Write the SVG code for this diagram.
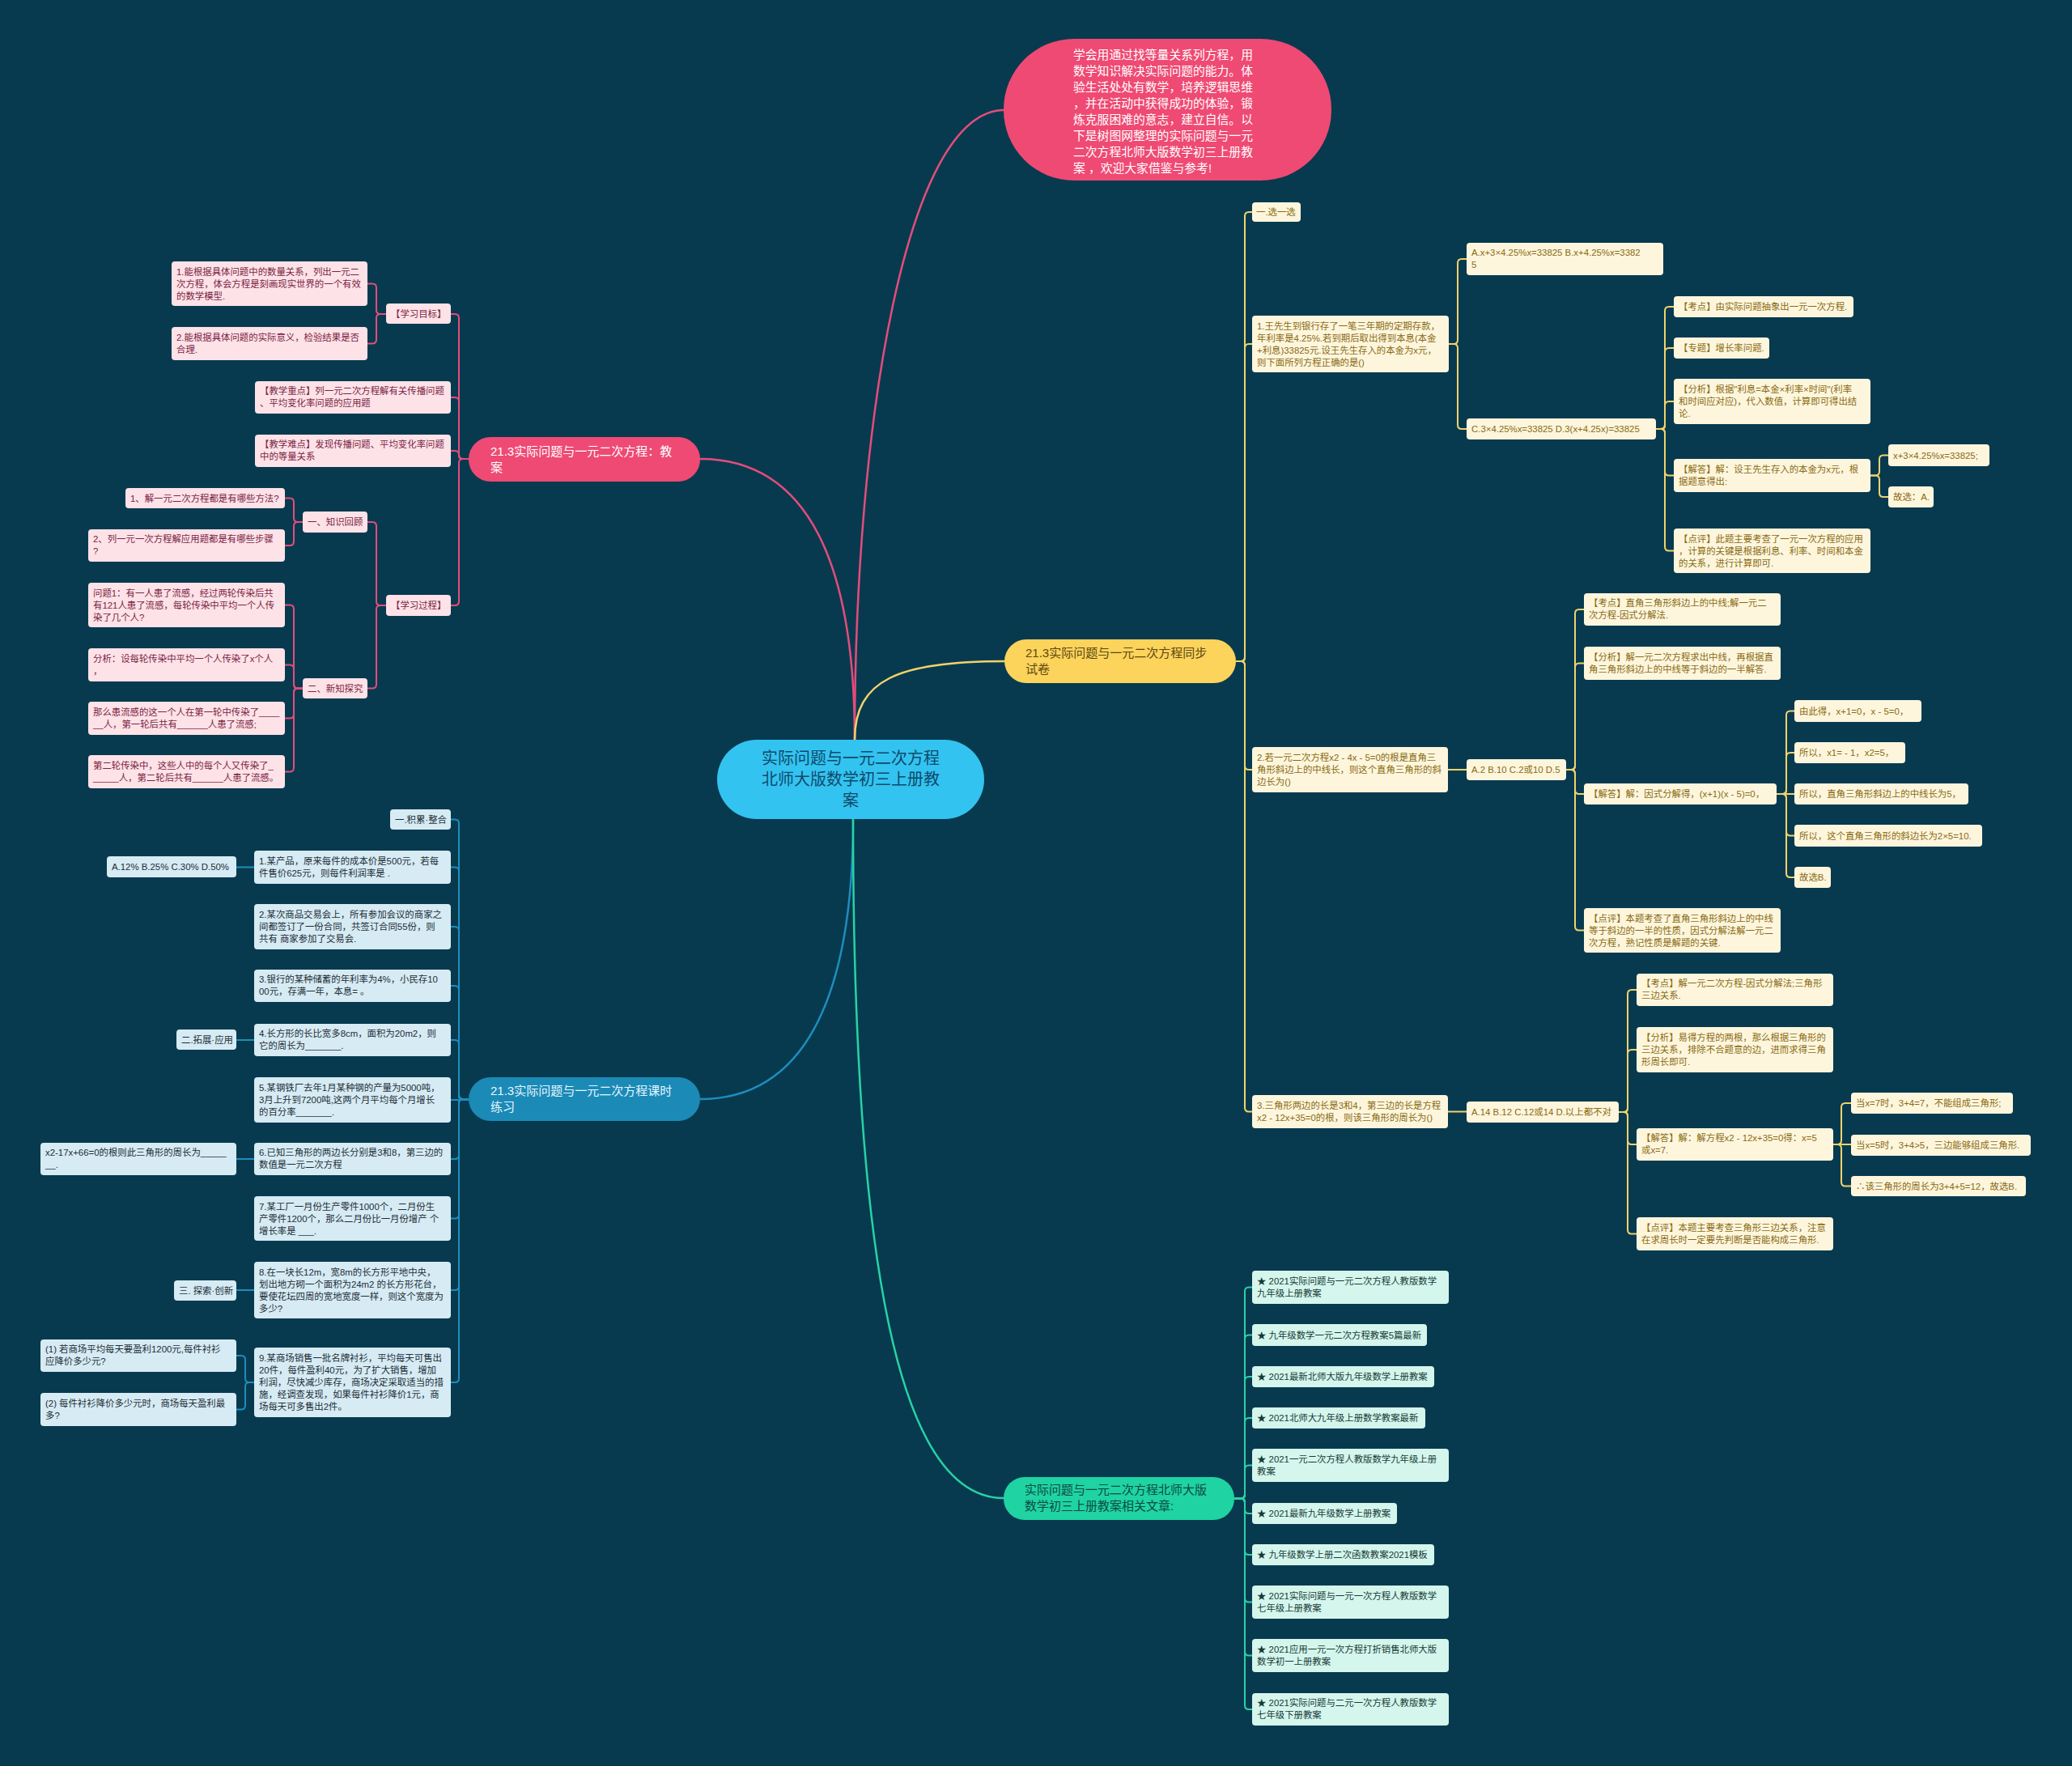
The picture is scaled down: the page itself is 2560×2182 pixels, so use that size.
<svg xmlns="http://www.w3.org/2000/svg" width="2560" height="2182" viewBox="0 0 2560 2182">
<style>
text{font-family:'Liberation Sans','Noto Sans CJK SC',sans-serif;font-size:11.4px}
.pk rect{fill:#fde2e8}.pk text{fill:#7a2443}
.bl rect{fill:#d6ebf3}.bl text{fill:#1d2d38}
.yl rect{fill:#fdf6dd}.yl text{fill:#8a6a12}
.gr rect{fill:#d4f6ed}.gr text{fill:#173a35}
#connectors path{fill:none;stroke-width:2}
.cp{stroke:#e44d7b}.cb{stroke:#1e8dbd}.cy{stroke:#f0d36c}.cg{stroke:#27d3a5}
</style>
<rect width="2560" height="2182" fill="#083a4f"/>
<g id="connectors">
<path class="cp" style="stroke-width:2.5" d="M1056,914 C1056,520 1120,136 1241,136"/>
<path class="cp" style="stroke-width:2.5" d="M1056,914 C1056,700 1000,567 865,567"/>
<path class="cy" style="stroke-width:2.5" d="M1056,914 C1056,840 1110,817 1241,817"/>
<path class="cb" style="stroke-width:2.5" d="M1054,1012 C1054,1220 1000,1358 865,1358"/>
<path class="cg" style="stroke-width:2.5" d="M1054,1012 C1054,1560 1110,1851 1240,1851"/>
<path class="cp" d="M579,567 H572 Q567,567 567,562 V393 Q567,388 562,388 H557"/>
<path class="cp" d="M579,567 H572 Q567,567 567,562 V496 Q567,491 562,491 H557"/>
<path class="cp" d="M579,567 H572 Q567,567 567,562 Q567,557 562,557 H557"/>
<path class="cp" d="M579,567 H572 Q567,567 567,572 V743 Q567,748 562,748 H557"/>
<path class="cp" d="M477,388 H470 Q465,388 465,383 V355.5 Q465,350.5 460,350.5 H454"/>
<path class="cp" d="M477,388 H470 Q465,388 465,393 V419.5 Q465,424.5 460,424.5 H454"/>
<path class="cp" d="M477,748 H470 Q465,748 465,743 V650 Q465,645 460,645 H454"/>
<path class="cp" d="M477,748 H470 Q465,748 465,753 V845.5 Q465,850.5 460,850.5 H454"/>
<path class="cp" d="M374,645 H368 Q363,645 363,640 V620.5 Q363,615.5 358,615.5 H352"/>
<path class="cp" d="M374,645 H368 Q363,645 363,650 V669 Q363,674 358,674 H352"/>
<path class="cp" d="M374,850.5 H368 Q363,850.5 363,845.5 V752.5 Q363,747.5 358,747.5 H352"/>
<path class="cp" d="M374,850.5 H368 Q363,850.5 363,845.5 V826.5 Q363,821.5 358,821.5 H352"/>
<path class="cp" d="M374,850.5 H368 Q363,850.5 363,855.5 V882.5 Q363,887.5 358,887.5 H352"/>
<path class="cp" d="M374,850.5 H368 Q363,850.5 363,855.5 V948.5 Q363,953.5 358,953.5 H352"/>
<path class="cb" d="M579,1358 H572 Q567,1358 567,1353 V1017.5 Q567,1012.5 562,1012.5 H557"/>
<path class="cb" d="M579,1358 H572 Q567,1358 567,1353 V1076.5 Q567,1071.5 562,1071.5 H557"/>
<path class="cb" d="M579,1358 H572 Q567,1358 567,1353 V1150 Q567,1145 562,1145 H557"/>
<path class="cb" d="M579,1358 H572 Q567,1358 567,1353 V1223 Q567,1218 562,1218 H557"/>
<path class="cb" d="M579,1358 H572 Q567,1358 567,1353 V1290 Q567,1285 562,1285 H557"/>
<path class="cb" d="M579,1359 H557"/>
<path class="cb" d="M579,1358 H572 Q567,1358 567,1363 V1427 Q567,1432 562,1432 H557"/>
<path class="cb" d="M579,1358 H572 Q567,1358 567,1363 V1500.5 Q567,1505.5 562,1505.5 H557"/>
<path class="cb" d="M579,1358 H572 Q567,1358 567,1363 V1589 Q567,1594 562,1594 H557"/>
<path class="cb" d="M579,1358 H572 Q567,1358 567,1363 V1703 Q567,1708 562,1708 H557"/>
<path class="cb" d="M314,1071.5 H292"/>
<path class="cb" d="M314,1285 H292"/>
<path class="cb" d="M314,1432 H292"/>
<path class="cb" d="M314,1594 H292"/>
<path class="cb" d="M314,1708 H308 Q303,1708 303,1703 V1680 Q303,1675 298,1675 H292"/>
<path class="cb" d="M314,1708 H308 Q303,1708 303,1713 V1736.5 Q303,1741.5 298,1741.5 H292"/>
<path class="cy" d="M1527,817 H1533 Q1538,817 1538,812 V267 Q1538,262 1543,262 H1547"/>
<path class="cy" d="M1527,817 H1533 Q1538,817 1538,812 V430 Q1538,425 1543,425 H1547"/>
<path class="cy" d="M1527,817 H1533 Q1538,817 1538,822 V946 Q1538,951 1543,951 H1547"/>
<path class="cy" d="M1527,817 H1533 Q1538,817 1538,822 V1368.5 Q1538,1373.5 1543,1373.5 H1547"/>
<path class="cy" d="M1790,425 H1796 Q1801,425 1801,420 V325 Q1801,320 1806,320 H1812"/>
<path class="cy" d="M1790,425 H1796 Q1801,425 1801,430 V525 Q1801,530 1806,530 H1812"/>
<path class="cy" d="M2046,530 H2052 Q2057,530 2057,525 V384 Q2057,379 2062,379 H2068"/>
<path class="cy" d="M2046,530 H2052 Q2057,530 2057,525 V435 Q2057,430 2062,430 H2068"/>
<path class="cy" d="M2046,530 H2052 Q2057,530 2057,525 V501 Q2057,496 2062,496 H2068"/>
<path class="cy" d="M2046,530 H2052 Q2057,530 2057,535 V582.5 Q2057,587.5 2062,587.5 H2068"/>
<path class="cy" d="M2046,530 H2052 Q2057,530 2057,535 V675.5 Q2057,680.5 2062,680.5 H2068"/>
<path class="cy" d="M2311,587.5 H2317 Q2322,587.5 2322,582.5 V567.5 Q2322,562.5 2327,562.5 H2333"/>
<path class="cy" d="M2311,587.5 H2317 Q2322,587.5 2322,592.5 V609 Q2322,614 2327,614 H2333"/>
<path class="cy" d="M1789,951 H1812"/>
<path class="cy" d="M1935,951 H1941 Q1946,951 1946,946 V758 Q1946,753 1951,753 H1957"/>
<path class="cy" d="M1935,951 H1941 Q1946,951 1946,946 V824.5 Q1946,819.5 1951,819.5 H1957"/>
<path class="cy" d="M1935,951 H1941 Q1946,951 1946,956 V976 Q1946,981 1951,981 H1957"/>
<path class="cy" d="M1935,951 H1941 Q1946,951 1946,956 V1144.5 Q1946,1149.5 1951,1149.5 H1957"/>
<path class="cy" d="M2195,981 H2202 Q2207,981 2207,976 V883.5 Q2207,878.5 2212,878.5 H2217"/>
<path class="cy" d="M2195,981 H2202 Q2207,981 2207,976 V935 Q2207,930 2212,930 H2217"/>
<path class="cy" d="M2195,981 H2217"/>
<path class="cy" d="M2195,981 H2202 Q2207,981 2207,986 V1027.5 Q2207,1032.5 2212,1032.5 H2217"/>
<path class="cy" d="M2195,981 H2202 Q2207,981 2207,986 V1079 Q2207,1084 2212,1084 H2217"/>
<path class="cy" d="M1789,1373.5 H1812"/>
<path class="cy" d="M2000,1374 H2006 Q2011,1374 2011,1369 V1228 Q2011,1223 2016,1223 H2022"/>
<path class="cy" d="M2000,1374 H2006 Q2011,1374 2011,1369 V1302 Q2011,1297 2016,1297 H2022"/>
<path class="cy" d="M2000,1374 H2006 Q2011,1374 2011,1379 V1409 Q2011,1414 2016,1414 H2022"/>
<path class="cy" d="M2000,1374 H2006 Q2011,1374 2011,1379 V1519.5 Q2011,1524.5 2016,1524.5 H2022"/>
<path class="cy" d="M2265,1414 H2270 Q2275,1414 2275,1409 V1368 Q2275,1363 2280,1363 H2287"/>
<path class="cy" d="M2265,1414 H2287"/>
<path class="cy" d="M2265,1414 H2270 Q2275,1414 2275,1419 V1460.5 Q2275,1465.5 2280,1465.5 H2287"/>
<path class="cg" d="M1525,1851.5 H1533 Q1538,1851.5 1538,1846.5 V1595.5 Q1538,1590.5 1543,1590.5 H1547"/>
<path class="cg" d="M1525,1851.5 H1533 Q1538,1851.5 1538,1846.5 V1654.5 Q1538,1649.5 1543,1649.5 H1547"/>
<path class="cg" d="M1525,1851.5 H1533 Q1538,1851.5 1538,1846.5 V1706 Q1538,1701 1543,1701 H1547"/>
<path class="cg" d="M1525,1851.5 H1533 Q1538,1851.5 1538,1846.5 V1757 Q1538,1752 1543,1752 H1547"/>
<path class="cg" d="M1525,1851.5 H1533 Q1538,1851.5 1538,1846.5 V1815.5 Q1538,1810.5 1543,1810.5 H1547"/>
<path class="cg" d="M1525,1851.5 H1533 Q1538,1851.5 1538,1856.5 V1865 Q1538,1870 1543,1870 H1547"/>
<path class="cg" d="M1525,1851.5 H1533 Q1538,1851.5 1538,1856.5 V1916 Q1538,1921 1543,1921 H1547"/>
<path class="cg" d="M1525,1851.5 H1533 Q1538,1851.5 1538,1856.5 V1974.5 Q1538,1979.5 1543,1979.5 H1547"/>
<path class="cg" d="M1525,1851.5 H1533 Q1538,1851.5 1538,1856.5 V2040.5 Q1538,2045.5 1543,2045.5 H1547"/>
<path class="cg" d="M1525,1851.5 H1533 Q1538,1851.5 1538,1856.5 V2107 Q1538,2112 1543,2112 H1547"/>
</g>

<g id="center"><rect x="886" y="914" width="330" height="98" rx="49" fill="#33c3f0"/>
<text text-anchor="middle" style="font-size:20px" fill="#0f4a6c"><tspan x="1051" y="944">实际问题与一元二次方程</tspan><tspan x="1051" dy="26">北师大版数学初三上册教</tspan><tspan x="1051" dy="26">案</tspan></text></g>

<g id="intro"><rect x="1240" y="48" width="405" height="175" rx="87" fill="#ef4a73"/>
<text style="font-size:14.8px" fill="#ffffff"><tspan x="1326" y="73">学会用通过找等量关系列方程，用</tspan><tspan x="1326" dy="20">数学知识解决实际问题的能力。体</tspan><tspan x="1326" dy="20">验生活处处有数学，培养逻辑思维</tspan><tspan x="1326" dy="20">，并在活动中获得成功的体验，锻</tspan><tspan x="1326" dy="20">炼克服困难的意志，建立自信。以</tspan><tspan x="1326" dy="20">下是树图网整理的实际问题与一元</tspan><tspan x="1326" dy="20">二次方程北师大版数学初三上册教</tspan><tspan x="1326" dy="20">案 ，欢迎大家借鉴与参考!</tspan></text></g>

<g id="b-pink"><rect x="579" y="540" width="286" height="55" rx="27" fill="#ee4a74"/>
<text style="font-size:15px" fill="#ffffff"><tspan x="606" y="563">21.3实际问题与一元二次方程：教</tspan><tspan x="606" dy="20">案</tspan></text></g>
<g id="b-yellow"><rect x="1241" y="790" width="286" height="54" rx="27" fill="#fcd35b"/>
<text style="font-size:15px" fill="#5a4712"><tspan x="1267" y="812">21.3实际问题与一元二次方程同步</tspan><tspan x="1267" dy="20">试卷</tspan></text></g>
<g id="b-blue"><rect x="579" y="1331" width="286" height="54" rx="27" fill="#1b8ab6"/>
<text style="font-size:15px" fill="#e6f6ff"><tspan x="606" y="1353">21.3实际问题与一元二次方程课时</tspan><tspan x="606" dy="20">练习</tspan></text></g>
<g id="b-green"><rect x="1240" y="1825" width="285" height="53" rx="26" fill="#1fd3a2"/>
<text style="font-size:15px" fill="#0e4a42"><tspan x="1266" y="1846">实际问题与一元二次方程北师大版</tspan><tspan x="1266" dy="20">数学初三上册教案相关文章:</tspan></text></g>

<g id="p-goal1" class="pk"><rect x="212" y="323" width="242" height="55" rx="4"/><text><tspan x="218" y="340">1.能根据具体问题中的数量关系，列出一元二</tspan><tspan x="218" dy="15">次方程，体会方程是刻画现实世界的一个有效</tspan><tspan x="218" dy="15">的数学模型.</tspan></text></g>
<g id="p-goal" class="pk"><rect x="477" y="375" width="80" height="25" rx="4"/><text x="483" y="392">【学习目标】</text></g>
<g id="p-goal2" class="pk"><rect x="212" y="404" width="242" height="41" rx="4"/><text><tspan x="218" y="421">2.能根据具体问题的实际意义，检验结果是否</tspan><tspan x="218" dy="15">合理.</tspan></text></g>
<g id="p-key" class="pk"><rect x="315" y="471" width="242" height="40" rx="4"/><text><tspan x="321" y="487">【教学重点】列一元二次方程解有关传播问题</tspan><tspan x="321" dy="15">、平均变化率问题的应用题</tspan></text></g>
<g id="p-hard" class="pk"><rect x="315" y="537" width="242" height="40" rx="4"/><text><tspan x="321" y="553">【教学难点】发现传播问题、平均变化率问题</tspan><tspan x="321" dy="15">中的等量关系</tspan></text></g>
<g id="p-proc" class="pk"><rect x="477" y="735" width="80" height="26" rx="4"/><text x="483" y="752">【学习过程】</text></g>
<g id="p-review" class="pk"><rect x="374" y="632" width="80" height="26" rx="4"/><text x="380" y="649">一、知识回顾</text></g>
<g id="p-r1" class="pk"><rect x="155" y="603" width="197" height="25" rx="4"/><text x="161" y="620">1、解一元二次方程都是有哪些方法?</text></g>
<g id="p-r2" class="pk"><rect x="109" y="654" width="243" height="40" rx="4"/><text><tspan x="115" y="670">2、列一元一次方程解应用题都是有哪些步骤</tspan><tspan x="115" dy="15">?</tspan></text></g>
<g id="p-new" class="pk"><rect x="374" y="838" width="80" height="25" rx="4"/><text x="380" y="855">二、新知探究</text></g>
<g id="p-n1" class="pk"><rect x="109" y="720" width="243" height="55" rx="4"/><text><tspan x="115" y="737">问题1：有一人患了流感，经过两轮传染后共</tspan><tspan x="115" dy="15">有121人患了流感，每轮传染中平均一个人传</tspan><tspan x="115" dy="15">染了几个人?</tspan></text></g>
<g id="p-n2" class="pk"><rect x="109" y="801" width="243" height="41" rx="4"/><text><tspan x="115" y="818">分析：设每轮传染中平均一个人传染了x个人</tspan><tspan x="115" dy="15">，</tspan></text></g>
<g id="p-n3" class="pk"><rect x="109" y="867" width="243" height="41" rx="4"/><text><tspan x="115" y="884">那么患流感的这一个人在第一轮中传染了____</tspan><tspan x="115" dy="15">__人，第一轮后共有______人患了流感;</tspan></text></g>
<g id="p-n4" class="pk"><rect x="109" y="933" width="243" height="41" rx="4"/><text><tspan x="115" y="950">第二轮传染中，这些人中的每个人又传染了_</tspan><tspan x="115" dy="15">_____人，第二轮后共有______人患了流感。</tspan></text></g>

<g id="u-0" class="bl"><rect x="482" y="1000" width="75" height="25" rx="4"/><text x="488" y="1017">一.积累·整合</text></g>
<g id="u-1" class="bl"><rect x="314" y="1051" width="243" height="41" rx="4"/><text><tspan x="320" y="1068">1.某产品，原来每件的成本价是500元，若每</tspan><tspan x="320" dy="15">件售价625元，则每件利润率是 .</tspan></text></g>
<g id="u-1a" class="bl"><rect x="132" y="1058" width="160" height="26" rx="4"/><text x="138" y="1075">A.12% B.25% C.30% D.50%</text></g>
<g id="u-2" class="bl"><rect x="314" y="1117" width="243" height="56" rx="4"/><text><tspan x="320" y="1134">2.某次商品交易会上，所有参加会议的商家之</tspan><tspan x="320" dy="15">间都签订了一份合同，共签订合同55份，则</tspan><tspan x="320" dy="15">共有 商家参加了交易会.</tspan></text></g>
<g id="u-3" class="bl"><rect x="314" y="1198" width="243" height="40" rx="4"/><text><tspan x="320" y="1214">3.银行的某种储蓄的年利率为4%，小民存10</tspan><tspan x="320" dy="15">00元，存满一年，本息= 。</tspan></text></g>
<g id="u-4" class="bl"><rect x="314" y="1265" width="243" height="40" rx="4"/><text><tspan x="320" y="1281">4.长方形的长比宽多8cm，面积为20m2，则</tspan><tspan x="320" dy="15">它的周长为_______.</tspan></text></g>
<g id="u-4a" class="bl"><rect x="218" y="1272" width="74" height="25" rx="4"/><text x="224" y="1289">二.拓展·应用</text></g>
<g id="u-5" class="bl"><rect x="314" y="1331" width="243" height="56" rx="4"/><text><tspan x="320" y="1348">5.某钢铁厂去年1月某种钢的产量为5000吨，</tspan><tspan x="320" dy="15">3月上升到7200吨,这两个月平均每个月增长</tspan><tspan x="320" dy="15">的百分率_______.</tspan></text></g>
<g id="u-6" class="bl"><rect x="314" y="1412" width="243" height="40" rx="4"/><text><tspan x="320" y="1428">6.已知三角形的两边长分别是3和8，第三边的</tspan><tspan x="320" dy="15">数值是一元二次方程</tspan></text></g>
<g id="u-6a" class="bl"><rect x="50" y="1412" width="242" height="40" rx="4"/><text><tspan x="56" y="1428">x2-17x+66=0的根则此三角形的周长为_____</tspan><tspan x="56" dy="15">__.</tspan></text></g>
<g id="u-7" class="bl"><rect x="314" y="1478" width="243" height="55" rx="4"/><text><tspan x="320" y="1495">7.某工厂一月份生产零件1000个，二月份生</tspan><tspan x="320" dy="15">产零件1200个，那么二月份比一月份增产 个</tspan><tspan x="320" dy="15">增长率是 ___.</tspan></text></g>
<g id="u-8" class="bl"><rect x="314" y="1559" width="243" height="70" rx="4"/><text><tspan x="320" y="1576">8.在一块长12m，宽8m的长方形平地中央，</tspan><tspan x="320" dy="15">划出地方砌一个面积为24m2 的长方形花台，</tspan><tspan x="320" dy="15">要使花坛四周的宽地宽度一样，则这个宽度为</tspan><tspan x="320" dy="15">多少?</tspan></text></g>
<g id="u-8a" class="bl"><rect x="215" y="1582" width="77" height="25" rx="4"/><text x="221" y="1599">三. 探索·创新</text></g>
<g id="u-9" class="bl"><rect x="314" y="1665" width="243" height="86" rx="4"/><text><tspan x="320" y="1682">9.某商场销售一批名牌衬衫，平均每天可售出</tspan><tspan x="320" dy="15">20件，每件盈利40元，为了扩大销售，增加</tspan><tspan x="320" dy="15">利润，尽快减少库存，商场决定采取适当的措</tspan><tspan x="320" dy="15">施，经调查发现，如果每件衬衫降价1元，商</tspan><tspan x="320" dy="15">场每天可多售出2件。</tspan></text></g>
<g id="u-9a" class="bl"><rect x="50" y="1655" width="242" height="40" rx="4"/><text><tspan x="56" y="1671">(1) 若商场平均每天要盈利1200元,每件衬衫</tspan><tspan x="56" dy="15">应降价多少元?</tspan></text></g>
<g id="u-9b" class="bl"><rect x="50" y="1721" width="242" height="41" rx="4"/><text><tspan x="56" y="1738">(2) 每件衬衫降价多少元时，商场每天盈利最</tspan><tspan x="56" dy="15">多?</tspan></text></g>

<g id="y-0" class="yl"><rect x="1547" y="250" width="60" height="24" rx="4"/><text x="1552" y="266">一.选一选</text></g>
<g id="y-q1" class="yl"><rect x="1547" y="390" width="243" height="70" rx="4"/><text><tspan x="1553" y="407">1.王先生到银行存了一笔三年期的定期存款，</tspan><tspan x="1553" dy="15">年利率是4.25%.若到期后取出得到本息(本金</tspan><tspan x="1553" dy="15">+利息)33825元.设王先生存入的本金为x元，</tspan><tspan x="1553" dy="15">则下面所列方程正确的是()</tspan></text></g>
<g id="y-q1a" class="yl"><rect x="1812" y="300" width="243" height="40" rx="4"/><text><tspan x="1818" y="316">A.x+3×4.25%x=33825 B.x+4.25%x=3382</tspan><tspan x="1818" dy="15">5</tspan></text></g>
<g id="y-q1c" class="yl"><rect x="1812" y="517" width="234" height="26" rx="4"/><text x="1818" y="534">C.3×4.25%x=33825 D.3(x+4.25x)=33825</text></g>
<g id="y-q1k" class="yl"><rect x="2068" y="366" width="222" height="26" rx="4"/><text x="2074" y="383">【考点】由实际问题抽象出一元一次方程.</text></g>
<g id="y-q1z" class="yl"><rect x="2068" y="417" width="118" height="26" rx="4"/><text x="2074" y="434">【专题】增长率问题.</text></g>
<g id="y-q1f" class="yl"><rect x="2068" y="468" width="243" height="56" rx="4"/><text><tspan x="2074" y="485">【分析】根据"利息=本金×利率×时间"(利率</tspan><tspan x="2074" dy="15">和时间应对应)，代入数值，计算即可得出结</tspan><tspan x="2074" dy="15">论.</tspan></text></g>
<g id="y-q1j" class="yl"><rect x="2068" y="567" width="243" height="41" rx="4"/><text><tspan x="2074" y="584">【解答】解：设王先生存入的本金为x元，根</tspan><tspan x="2074" dy="15">据题意得出:</tspan></text></g>
<g id="y-q1j1" class="yl"><rect x="2333" y="549" width="125" height="27" rx="4"/><text x="2339" y="567">x+3×4.25%x=33825;</text></g>
<g id="y-q1j2" class="yl"><rect x="2333" y="601" width="56" height="26" rx="4"/><text x="2339" y="618">故选：A.</text></g>
<g id="y-q1d" class="yl"><rect x="2068" y="653" width="243" height="55" rx="4"/><text><tspan x="2074" y="670">【点评】此题主要考查了一元一次方程的应用</tspan><tspan x="2074" dy="15">，计算的关键是根据利息、利率、时间和本金</tspan><tspan x="2074" dy="15">的关系，进行计算即可.</tspan></text></g>

<g id="y-q2" class="yl"><rect x="1547" y="923" width="242" height="56" rx="4"/><text><tspan x="1553" y="940">2.若一元二次方程x2 - 4x - 5=0的根是直角三</tspan><tspan x="1553" dy="15">角形斜边上的中线长，则这个直角三角形的斜</tspan><tspan x="1553" dy="15">边长为()</tspan></text></g>
<g id="y-q2a" class="yl"><rect x="1812" y="938" width="123" height="26" rx="4"/><text x="1818" y="955">A.2 B.10 C.2或10 D.5</text></g>
<g id="y-q2k" class="yl"><rect x="1957" y="733" width="243" height="40" rx="4"/><text><tspan x="1963" y="749">【考点】直角三角形斜边上的中线;解一元二</tspan><tspan x="1963" dy="15">次方程-因式分解法.</tspan></text></g>
<g id="y-q2f" class="yl"><rect x="1957" y="799" width="243" height="41" rx="4"/><text><tspan x="1963" y="816">【分析】解一元二次方程求出中线，再根据直</tspan><tspan x="1963" dy="15">角三角形斜边上的中线等于斜边的一半解答.</tspan></text></g>
<g id="y-q2j" class="yl"><rect x="1957" y="968" width="238" height="26" rx="4"/><text x="1963" y="985">【解答】解：因式分解得，(x+1)(x - 5)=0，</text></g>
<g id="y-q2d" class="yl"><rect x="1957" y="1122" width="243" height="55" rx="4"/><text><tspan x="1963" y="1139">【点评】本题考查了直角三角形斜边上的中线</tspan><tspan x="1963" dy="15">等于斜边的一半的性质，因式分解法解一元二</tspan><tspan x="1963" dy="15">次方程，熟记性质是解题的关键.</tspan></text></g>
<g id="y-q2j1" class="yl"><rect x="2217" y="865" width="157" height="27" rx="4"/><text x="2223" y="883">由此得，x+1=0，x - 5=0，</text></g>
<g id="y-q2j2" class="yl"><rect x="2217" y="917" width="137" height="26" rx="4"/><text x="2223" y="934">所以，x1= - 1，x2=5，</text></g>
<g id="y-q2j3" class="yl"><rect x="2217" y="968" width="215" height="26" rx="4"/><text x="2223" y="985">所以，直角三角形斜边上的中线长为5，</text></g>
<g id="y-q2j4" class="yl"><rect x="2217" y="1019" width="232" height="27" rx="4"/><text x="2223" y="1037">所以，这个直角三角形的斜边长为2×5=10.</text></g>
<g id="y-q2j5" class="yl"><rect x="2217" y="1071" width="45" height="26" rx="4"/><text x="2223" y="1088">故选B.</text></g>

<g id="y-q3" class="yl"><rect x="1547" y="1353" width="242" height="41" rx="4"/><text><tspan x="1553" y="1370">3.三角形两边的长是3和4，第三边的长是方程</tspan><tspan x="1553" dy="15">x2 - 12x+35=0的根，则该三角形的周长为()</tspan></text></g>
<g id="y-q3a" class="yl"><rect x="1812" y="1361" width="188" height="26" rx="4"/><text x="1818" y="1378">A.14 B.12 C.12或14 D.以上都不对</text></g>
<g id="y-q3k" class="yl"><rect x="2022" y="1203" width="243" height="40" rx="4"/><text><tspan x="2028" y="1219">【考点】解一元二次方程-因式分解法;三角形</tspan><tspan x="2028" dy="15">三边关系.</tspan></text></g>
<g id="y-q3f" class="yl"><rect x="2022" y="1269" width="243" height="56" rx="4"/><text><tspan x="2028" y="1286">【分析】易得方程的两根，那么根据三角形的</tspan><tspan x="2028" dy="15">三边关系，排除不合题意的边，进而求得三角</tspan><tspan x="2028" dy="15">形周长即可.</tspan></text></g>
<g id="y-q3j" class="yl"><rect x="2022" y="1394" width="243" height="40" rx="4"/><text><tspan x="2028" y="1410">【解答】解：解方程x2 - 12x+35=0得：x=5</tspan><tspan x="2028" dy="15">或x=7.</tspan></text></g>
<g id="y-q3d" class="yl"><rect x="2022" y="1504" width="243" height="41" rx="4"/><text><tspan x="2028" y="1521">【点评】本题主要考查三角形三边关系，注意</tspan><tspan x="2028" dy="15">在求周长时一定要先判断是否能构成三角形.</tspan></text></g>
<g id="y-q3j1" class="yl"><rect x="2287" y="1350" width="200" height="26" rx="4"/><text x="2293" y="1367">当x=7时，3+4=7，不能组成三角形;</text></g>
<g id="y-q3j2" class="yl"><rect x="2287" y="1402" width="222" height="26" rx="4"/><text x="2293" y="1419">当x=5时，3+4&gt;5，三边能够组成三角形.</text></g>
<g id="y-q3j3" class="yl"><rect x="2287" y="1453" width="216" height="25" rx="4"/><text x="2293" y="1470">∴该三角形的周长为3+4+5=12，故选B.</text></g>

<g id="g-1" class="gr"><rect x="1547" y="1570" width="243" height="41" rx="4"/><text><tspan x="1553" y="1587">★ 2021实际问题与一元二次方程人教版数学</tspan><tspan x="1553" dy="15">九年级上册教案</tspan></text></g>
<g id="g-2" class="gr"><rect x="1547" y="1636" width="216" height="27" rx="4"/><text x="1553" y="1654">★ 九年级数学一元二次方程教案5篇最新</text></g>
<g id="g-3" class="gr"><rect x="1547" y="1688" width="225" height="26" rx="4"/><text x="1553" y="1705">★ 2021最新北师大版九年级数学上册教案</text></g>
<g id="g-4" class="gr"><rect x="1547" y="1739" width="214" height="26" rx="4"/><text x="1553" y="1756">★ 2021北师大九年级上册数学教案最新</text></g>
<g id="g-5" class="gr"><rect x="1547" y="1790" width="243" height="41" rx="4"/><text><tspan x="1553" y="1807">★ 2021一元二次方程人教版数学九年级上册</tspan><tspan x="1553" dy="15">教案</tspan></text></g>
<g id="g-6" class="gr"><rect x="1547" y="1857" width="179" height="26" rx="4"/><text x="1553" y="1874">★ 2021最新九年级数学上册教案</text></g>
<g id="g-7" class="gr"><rect x="1547" y="1908" width="225" height="26" rx="4"/><text x="1553" y="1925">★ 九年级数学上册二次函数教案2021模板</text></g>
<g id="g-8" class="gr"><rect x="1547" y="1959" width="243" height="41" rx="4"/><text><tspan x="1553" y="1976">★ 2021实际问题与一元一次方程人教版数学</tspan><tspan x="1553" dy="15">七年级上册教案</tspan></text></g>
<g id="g-9" class="gr"><rect x="1547" y="2025" width="243" height="41" rx="4"/><text><tspan x="1553" y="2042">★ 2021应用一元一次方程打折销售北师大版</tspan><tspan x="1553" dy="15">数学初一上册教案</tspan></text></g>
<g id="g-10" class="gr"><rect x="1547" y="2092" width="243" height="40" rx="4"/><text><tspan x="1553" y="2108">★ 2021实际问题与二元一次方程人教版数学</tspan><tspan x="1553" dy="15">七年级下册教案</tspan></text></g>
</svg>
